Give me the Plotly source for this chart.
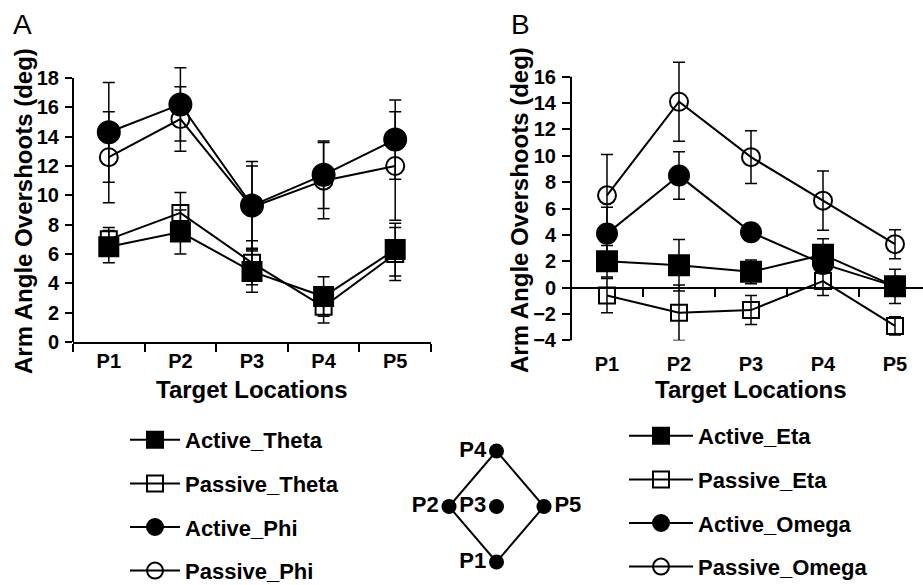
import plotly.graph_objects as go

W, H = 923, 585

# ---------------- data ----------------
locations = ["P1", "P2", "P3", "P4", "P5"]

# Panel A
active_theta = [6.5, 7.5, 4.8, 3.1, 6.3]
active_theta_err = [1.1, 1.5, 1.4, 1.35, 1.8]
passive_theta = [7.0, 8.8, 5.4, 2.4, 6.0]
passive_theta_err = [0.8, 1.4, 1.5, 1.1, 1.8]
active_phi = [14.3, 16.2, 9.3, 11.4, 13.8]
active_phi_err = [3.4, 2.5, 3.0, 2.3, 2.7]
passive_phi = [12.6, 15.2, 9.2, 11.0, 12.0]
passive_phi_err = [3.1, 2.2, 2.8, 2.6, 3.7]

# Panel B
active_eta = [2.0, 1.7, 1.2, 2.5, 0.1]
active_eta_err = [1.2, 1.95, 0.9, 1.2, 1.3]
passive_eta = [-0.6, -1.9, -1.7, 0.5, -2.9]
passive_eta_err = [1.3, 2.1, 1.1, 1.1, 0.7]
active_omega = [4.1, 8.5, 4.2, 1.8, 0.1]
active_omega_err = [2.0, 1.8, 0.6, 0.6, 0.6]
passive_omega = [7.0, 14.1, 9.9, 6.6, 3.3]
passive_omega_err = [3.1, 3.0, 2.0, 2.25, 1.1]

yticks_a = [0, 2, 4, 6, 8, 10, 12, 14, 16, 18]
yticks_b = [-4, -2, 0, 2, 4, 6, 8, 10, 12, 14, 16]

# target layout diagram
diag_labels = ["P1", "P2", "P3", "P4", "P5"]
diag_x = [0, -1, 0, 0, 1]
diag_y = [-1, 0, 0, 1, 0]
diag_textpos = ["middle left", "middle left", "middle left", "middle left", "middle right"]
diamond_order = ["P1", "P2", "P4", "P5", "P1"]

# ---------------- style ----------------
FONT = "Liberation Sans, Arial, Helvetica, sans-serif"
BLACK = "black"


def px_x(p):
    return p / W


def px_y(p):
    return 1 - p / H


fig = go.Figure()


def add_series(name, y, err, xa, ya, symbol, size, filled, legend):
    fig.add_trace(go.Scatter(
        x=locations, y=y, name=name, xaxis=xa, yaxis=ya,
        mode="lines+markers",
        line=dict(color=BLACK, width=2),
        marker=dict(symbol=symbol if filled else symbol + "-open", size=size,
                    color=BLACK, line=dict(color=BLACK, width=2)),
        error_y=dict(type="data", array=err, visible=True, color=BLACK,
                     thickness=1.5, width=6),
        cliponaxis=False, legend=legend, legendgroup=name,
    ))


add_series("Active_Theta", active_theta, active_theta_err, "x", "y", "square", 19, True, "legend")
add_series("Passive_Theta", passive_theta, passive_theta_err, "x", "y", "square", 16, False, "legend")
add_series("Active_Phi", active_phi, active_phi_err, "x", "y", "circle", 22, True, "legend")
add_series("Passive_Phi", passive_phi, passive_phi_err, "x", "y", "circle", 18, False, "legend")

add_series("Active_Eta", active_eta, active_eta_err, "x2", "y2", "square", 20, True, "legend2")
add_series("Passive_Eta", passive_eta, passive_eta_err, "x2", "y2", "square", 16, False, "legend2")
add_series("Active_Omega", active_omega, active_omega_err, "x2", "y2", "circle", 20, True, "legend2")
add_series("Passive_Omega", passive_omega, passive_omega_err, "x2", "y2", "circle", 18, False, "legend2")

# diagram of target locations
idx = {l: i for i, l in enumerate(diag_labels)}
fig.add_trace(go.Scatter(
    x=[diag_x[idx[l]] for l in diamond_order], y=[diag_y[idx[l]] for l in diamond_order],
    xaxis="x3", yaxis="y3", mode="lines", line=dict(color=BLACK, width=2),
    showlegend=False, cliponaxis=False, hoverinfo="skip",
))
fig.add_trace(go.Scatter(
    x=diag_x, y=diag_y, text=diag_labels, textposition=diag_textpos,
    xaxis="x3", yaxis="y3", mode="markers+text",
    marker=dict(color=BLACK, size=15),
    textfont=dict(family=FONT, size=22, color=BLACK, weight=700),
    showlegend=False, cliponaxis=False,
))

# ---------------- axes ----------------
tickfont = dict(family=FONT, size=20, color=BLACK, weight=700)

# Panel A: pixel positions of the x range and of y = 0 / y = 18
ax_l, ax_r = 73, 431
ay_0, ay_18 = 342, 78
a_ppu = (ay_0 - ay_18) / 18.0
a_top = 19.0  # room above the last tick for error bars
# Panel B: pixel positions of y = -4 / y = 16
bx_l = 571
by_m4, by_16 = 340.4, 76.7
b_ppu = (by_m4 - by_16) / 20.0
b_top = 17.5
b_cat_px = 72.0

a_dom = [px_y(ay_0), px_y(ay_0 - a_top * a_ppu)]
b_dom = [px_y(by_m4), px_y(by_m4 - (b_top + 4) * b_ppu)]
zero_pos_b = px_y(by_m4 - 4 * b_ppu)

common_y = dict(ticks="outside", tickwidth=1.5, tickcolor=BLACK, showline=False,
                showgrid=False, zeroline=False, tickfont=tickfont, ticklabelstandoff=2,
                automargin=False)

fig.update_layout(
    width=W, height=H, margin=dict(l=0, r=0, t=0, b=0, autoexpand=False),
    paper_bgcolor="white", plot_bgcolor="white",
    font=dict(family=FONT, color=BLACK),
    showlegend=True,
    xaxis=dict(domain=[px_x(ax_l), px_x(ax_r)], anchor="y", type="category",
               range=[-0.5, 4.5], tickson="boundaries", ticks="outside", ticklen=8,
               tickwidth=1.5, tickcolor=BLACK, showline=True, linecolor=BLACK, linewidth=2,
               showgrid=False, zeroline=False, tickfont=tickfont, automargin=False),
    yaxis=dict(domain=a_dom, anchor="x", range=[0, a_top], tickvals=yticks_a, ticklen=7,
               **common_y),
    xaxis2=dict(domain=[px_x(bx_l), 1.0], anchor="y2", type="category",
                range=[-0.5, -0.5 + (W - bx_l) / b_cat_px], ticks="", showline=False,
                showgrid=False, zeroline=False, tickfont=tickfont, ticklabelstandoff=10,
                automargin=False),
    yaxis2=dict(domain=b_dom, anchor="x2", range=[-4, b_top], tickvals=yticks_b, ticklen=8,
                **common_y),
    xaxis4=dict(overlaying="x2", anchor="free", domain=[px_x(bx_l), 1.0],
                position=zero_pos_b,
                type="category", range=[-0.5, -0.5 + (W - bx_l) / b_cat_px],
                tickson="boundaries", ticks="outside", ticklen=8, tickwidth=1.5, tickcolor=BLACK,
                showline=True, linecolor=BLACK, linewidth=2, showticklabels=False,
                showgrid=False, zeroline=False, categoryorder="array", categoryarray=locations,
                automargin=False),
    xaxis3=dict(domain=[px_x(449), px_x(544)], anchor="y3", range=[-1, 1], visible=False),
    yaxis3=dict(domain=[px_y(562), px_y(451)], anchor="x3", range=[-1, 1], visible=False),
    legend=dict(x=px_x(125), y=px_y(419), xanchor="left", yanchor="top",
                font=dict(family=FONT, size=22, color=BLACK, weight=700),
                tracegroupgap=12, itemwidth=50, itemsizing="trace",
                bgcolor="rgba(0,0,0,0)"),
    legend2=dict(x=px_x(624), y=px_y(415), xanchor="left", yanchor="top",
                 font=dict(family=FONT, size=22, color=BLACK, weight=700),
                 tracegroupgap=12, itemwidth=64, itemsizing="trace",
                 bgcolor="rgba(0,0,0,0)"),
)

# y-axis lines that stop at the last tick value
fig.add_shape(type="line", xref="x domain", yref="y", x0=0, x1=0,
              y0=yticks_a[0], y1=yticks_a[-1], line=dict(color=BLACK, width=2), layer="above")
fig.add_shape(type="line", xref="x2 domain", yref="y2", x0=0, x1=0,
              y0=yticks_b[0], y1=yticks_b[-1], line=dict(color=BLACK, width=2), layer="above")

# dummy trace so xaxis4 exists
fig.add_trace(go.Scatter(x=locations, y=[None] * len(locations), xaxis="x4", yaxis="y2",
                         showlegend=False, hoverinfo="skip"))

titlefont = dict(family=FONT, size=24, color=BLACK, weight=700)
annots = [
    dict(text="A", x=px_x(22), y=px_y(25), font=dict(family=FONT, size=28, color=BLACK)),
    dict(text="B", x=px_x(520), y=px_y(25), font=dict(family=FONT, size=28, color=BLACK)),
    dict(text="Arm Angle Overshoots (deg)", x=px_x(23), y=px_y(211), textangle=-90, font=titlefont),
    dict(text="Arm Angle Overshoots (deg)", x=px_x(519), y=px_y(210), textangle=-90, font=titlefont),
    dict(text="Target Locations", x=px_x(252), y=px_y(389), font=titlefont),
    dict(text="Target Locations", x=px_x(751), y=px_y(389), font=titlefont),
]
for a in annots:
    fig.add_annotation(xref="paper", yref="paper", xanchor="center", yanchor="middle",
                       showarrow=False, **a)

fig.write_html("out.html")
